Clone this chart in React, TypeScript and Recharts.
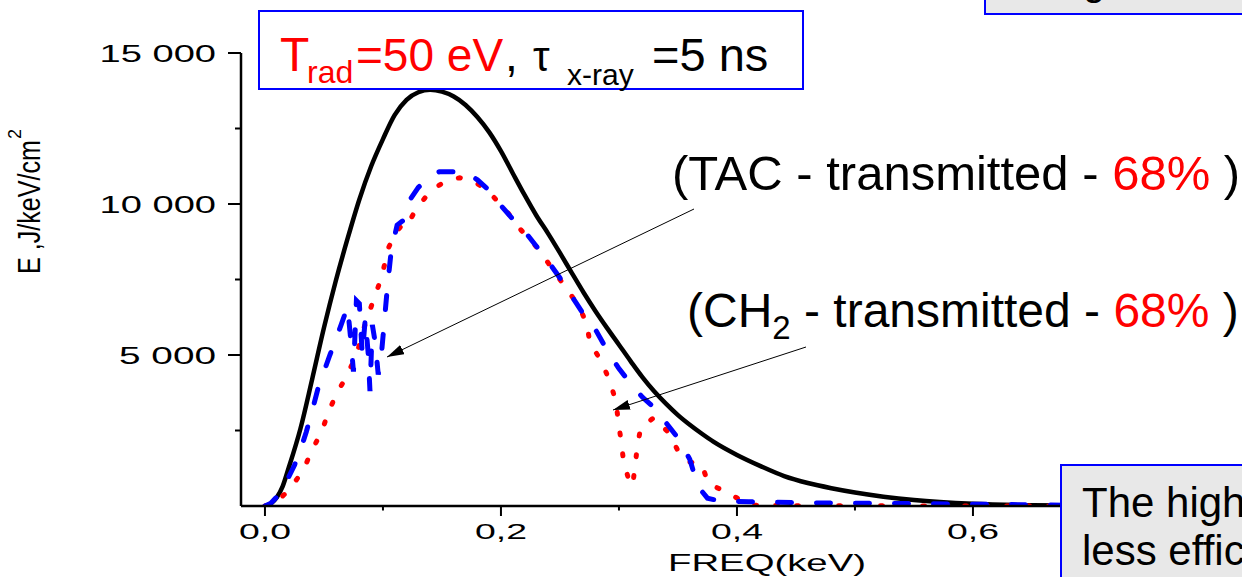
import React from "react";
import { LineChart, Line, XAxis, YAxis } from "recharts";

// incident spectrum (black)
const blackFreq = [
  0, 0.005, 0.01, 0.015, 0.02, 0.03, 0.04, 0.05, 0.06, 0.07, 0.08, 0.09, 0.1, 0.11, 0.12, 0.13,
  0.14, 0.15, 0.16, 0.17, 0.18, 0.19, 0.2, 0.21, 0.22, 0.23, 0.24, 0.25, 0.26, 0.27, 0.28, 0.29,
  0.3, 0.31, 0.32, 0.33, 0.34, 0.35, 0.36, 0.37, 0.38, 0.4, 0.42, 0.44, 0.46, 0.48, 0.5, 0.55,
  0.6, 0.65, 0.7, 0.75, 0.8, 0.83,
];
const blackE = [
  0, 80, 280, 650, 1250, 2550, 4200, 5900, 7450, 8850, 10150, 11250, 12150, 12950, 13450, 13700,
  13780, 13720, 13560, 13280, 12880, 12380, 11750, 11020, 10300, 9620, 9020, 8380, 7720, 7070,
  6460, 5890, 5340, 4790, 4260, 3790, 3380, 3010, 2690, 2400, 2130, 1690, 1320, 990, 760, 590,
  450, 200, 75, 25, 10, 5, 2, 1,
];

// TAC transmitted (blue dashed)
const tacFreq = [
  0, 0.005, 0.01, 0.015, 0.02, 0.025, 0.03, 0.035, 0.04, 0.045, 0.05, 0.055, 0.06, 0.065, 0.07,
  0.0725, 0.075, 0.0775, 0.08, 0.0825, 0.085, 0.0875, 0.089, 0.091, 0.0935, 0.096, 0.099, 0.1015,
  0.104, 0.107, 0.112, 0.117, 0.123, 0.13, 0.14, 0.148, 0.17, 0.18, 0.19, 0.2, 0.21, 0.22, 0.23,
  0.24, 0.25, 0.26, 0.27, 0.28, 0.29, 0.3, 0.31, 0.32, 0.33, 0.34, 0.35, 0.36, 0.365, 0.37, 0.375,
  0.385, 0.41, 0.45, 0.5, 0.55, 0.6, 0.65, 0.7, 0.75, 0.83,
];
const tacE = [
  0, 90, 300, 600, 950, 1350, 1850, 2450, 3150, 3900, 4450, 5000, 5500, 6050, 6600, 5600, 4450,
  6800, 6700, 5000, 6200, 5050, 3800, 6000, 5400, 4350, 5150, 6250, 7350, 8450, 9300, 9450, 10150,
  10550, 10950, 11070, 11070, 10800, 10450, 9950, 9500, 9100, 8600, 8100, 7550, 6950, 6350, 5850,
  5150, 4550, 4050, 3600, 3250, 2750, 2250, 1550, 900, 500, 260, 170, 140, 110, 90, 80, 60, 40, 20,
  10, 5,
];

// CH2 transmitted (red dotted)
const chFreq = [
  0, 0.005, 0.01, 0.015, 0.021, 0.0325, 0.04, 0.048, 0.054, 0.061, 0.068, 0.078, 0.082, 0.0875,
  0.093, 0.099, 0.1045, 0.11, 0.115, 0.119, 0.1285, 0.141, 0.153, 0.165, 0.177, 0.188, 0.203,
  0.217, 0.23, 0.24, 0.25, 0.26, 0.2655, 0.2726, 0.2754, 0.2853, 0.2924, 0.2975, 0.2994, 0.3017,
  0.3037, 0.3079, 0.3116, 0.3136, 0.3155, 0.3184, 0.33, 0.343, 0.351, 0.358, 0.37, 0.3757, 0.394,
  0.411, 0.45, 0.5, 0.6, 0.7, 0.83,
];
const chE = [
  0, 40, 150, 330, 552, 1192, 1854, 2460, 3122, 3751, 4205, 5033, 5662, 6324, 6930, 7593, 8532,
  9000, 9250, 9195, 9857, 10463, 10750, 10870, 10750, 10463, 9857, 9138, 8586, 8050, 7500, 6950,
  6655, 6049, 5407, 4778, 4116, 3453, 2814, 2185, 1546, 917, 672, 1301, 1943, 2593, 2937, 2384,
  1745, 1467, 1391, 752, 397, 23, 10, 5, 2, 1, 0,
];

const xTicks = [0, 0.1, 0.2, 0.3, 0.4, 0.5, 0.6, 0.7, 0.8];
const xMajor = [0, 0.2, 0.4, 0.6, 0.8];
const xLabels = ["0,0", "0,2", "0,4", "0,6", "0,8"];
const yTicks = [2500, 5000, 7500, 10000, 12500, 15000];
const yMajor = [5000, 10000, 15000];
const yLabels = ["5 000", "10 000", "15 000"];

const zip = (xs: number[], ys: number[]) => xs.map((f, i) => ({ freq: f, e: ys[i] }));

const FONT = "'Liberation Sans', Arial, sans-serif";

function XTick(props: any) {
  const { x, y, payload } = props;
  const i = xMajor.findIndex((v) => Math.abs(v - payload.value) < 1e-9);
  return (
    <g>
      <line x1={x} x2={x} y1={y} y2={y + (i >= 0 ? 10 : 4.5)} stroke="#000" strokeWidth={2} />
      {i >= 0 && (
        <text x={x} y={y + 33} textAnchor="middle" fontSize={22} fontFamily={FONT}
          textLength={52} lengthAdjust="spacingAndGlyphs" fill="#000">
          {xLabels[i]}
        </text>
      )}
    </g>
  );
}

function YTick(props: any) {
  const { x, y, payload } = props;
  const i = yMajor.indexOf(payload.value);
  return (
    <g>
      <line x1={x - (i >= 0 ? 13 : 6)} x2={x} y1={y} y2={y} stroke="#000" strokeWidth={2} />
      {i >= 0 && (
        <text x={x - 25} y={y + 8.5} textAnchor="end" fontSize={24} fontFamily={FONT}
          textLength={yLabels[i].length * 19.4} lengthAdjust="spacingAndGlyphs" fill="#000">
          {yLabels[i]}
        </text>
      )}
    </g>
  );
}

function Overlay() {
  const pre = { whiteSpace: "pre" as const };
  return (
    <svg width={1242} height={577} style={{ position: "absolute", left: 0, top: 0 }}>
      <defs>
        <marker id="ah" markerWidth={17} markerHeight={10} refX={17} refY={5} orient="auto"
          markerUnits="userSpaceOnUse">
          <path d="M0,0 L17,5 L0,10 z" fill="#000" />
        </marker>
      </defs>

      {/* axis titles */}
      <text transform="translate(40,274) rotate(-90)" fontSize={31} fontFamily={FONT}
        textLength={134} lengthAdjust="spacingAndGlyphs">E ,J/keV/cm</text>
      <text transform="translate(21,139) rotate(-90)" fontSize={18} fontFamily={FONT}>2</text>
      <text x={668} y={571} fontSize={24} fontFamily={FONT} textLength={198}
        lengthAdjust="spacingAndGlyphs">FREQ(keV)</text>

      {/* title box */}
      <rect x={259} y={11} width={544} height={78} fill="#fff" stroke="#0000ff" strokeWidth={2} />
      <g fontFamily={FONT} style={pre}>
        <text x={280} y={71} fontSize={48} fill="#ff0000">T</text>
        <text x={307} y={83} fontSize={32} fill="#ff0000">rad</text>
        <text x={356} y={71} fontSize={46} fill="#ff0000">=50 eV</text>
        <text x={505} y={71} fontSize={46} fill="#000">,</text>
        <text x={533} y={71} fontSize={42} fill="#000">τ</text>
        <text x={567} y={85} fontSize={30} fill="#000">x-ray</text>
        <text x={652} y={71} fontSize={47} fill="#000">=5 ns</text>
      </g>

      {/* annotations */}
      <text x={672} y={190} fontSize={49} fontFamily={FONT} style={pre}>
        <tspan>(TAC - transmitted - </tspan>
        <tspan fill="#ff0000">68%</tspan>
        <tspan> )</tspan>
      </text>
      <text x={687} y={327} fontSize={48} fontFamily={FONT} style={pre}>
        <tspan>(CH</tspan>
        <tspan fontSize={33} dy={12}>2</tspan>
        <tspan dy={-12}> - transmitted - </tspan>
        <tspan fill="#ff0000">68%</tspan>
        <tspan> )</tspan>
      </text>
      <line x1={694} y1={209} x2={387} y2={357} stroke="#000" strokeWidth={1} markerEnd="url(#ah)" />
      <line x1={806} y1={347} x2={613} y2={410} stroke="#000" strokeWidth={1} markerEnd="url(#ah)" />

      {/* cropped side boxes */}
      <rect x={985} y={-10} width={300} height={24} fill="#e8e8e8" stroke="#0000ff" strokeWidth={2} />
      <text x={1083} y={-5} fontSize={40} fontFamily={FONT}>g</text>
      <rect x={1061} y={465} width={220} height={150} fill="#e8e8e8" stroke="#0000ff" strokeWidth={2} />
      <text x={1082} y={517} fontSize={42} fontFamily={FONT}>The high</text>
      <text x={1082} y={565} fontSize={42} fontFamily={FONT}>less effic</text>
    </svg>
  );
}

export default function App() {
  return (
    <div style={{ position: "absolute", left: 0, top: 0, width: 1242, height: 577, overflow: "hidden", background: "#fff" }}>
      <LineChart width={1242} height={577} margin={{ top: 53, right: 0, bottom: 0, left: 0 }}>
        <XAxis type="number" dataKey="freq" domain={[-0.0203, 0.828]} allowDataOverflow
          ticks={xTicks} interval={0} tick={<XTick />} tickSize={0} tickMargin={0} tickLine={false}
          axisLine={{ stroke: "#000", strokeWidth: 2.5 }} height={71} />
        <YAxis type="number" dataKey="e" domain={[0, 15000]} allowDataOverflow ticks={yTicks}
          interval={0} tick={<YTick />} tickSize={0} tickMargin={0} tickLine={false}
          axisLine={{ stroke: "#000", strokeWidth: 2.5 }} width={241} />
        <Line data={zip(blackFreq, blackE)} dataKey="e" type="monotone" stroke="#000"
          strokeWidth={4.5} dot={false} activeDot={false} isAnimationActive={false} />
        <Line data={zip(chFreq, chE)} dataKey="e" type="linear" stroke="#ff0000" strokeWidth={5}
          strokeDasharray="2 19" strokeLinecap="round" dot={false} activeDot={false}
          isAnimationActive={false} />
        <Line data={zip(tacFreq, tacE)} dataKey="e" type="linear" stroke="#0000ff" strokeWidth={5}
          strokeDasharray="14 25" strokeLinecap="round" dot={false} activeDot={false}
          isAnimationActive={false} />
      </LineChart>
      <Overlay />
    </div>
  );
}
